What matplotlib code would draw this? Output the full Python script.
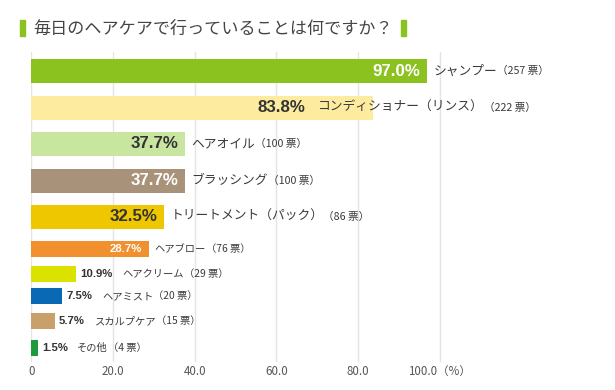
import matplotlib
matplotlib.use("Agg")
import matplotlib.pyplot as plt
from matplotlib.patches import Rectangle

# --- data ---
title = "毎日のヘアケアで行っていることは何ですか？"
items = ["シャンプー", "コンディショナー（リンス）", "ヘアオイル", "ブラッシング",
         "トリートメント（パック）", "ヘアブロー", "ヘアクリーム", "ヘアミスト",
         "スカルプケア", "その他"]
percents = [97.0, 83.8, 37.7, 37.7, 32.5, 28.7, 10.9, 7.5, 5.7, 1.5]
votes = [257, 222, 100, 100, 86, 76, 29, 20, 15, 4]
colors = ["#8cc21f", "#fdeca0", "#c9e6a0", "#a8927a", "#efc700",
          "#f0902f", "#dce200", "#0a69b5", "#c8a06a", "#1f9a3d"]
pct_colors = ["white", "#333333", "#333333", "white", "#333333",
              "white", "#333333", "#333333", "#333333", "#333333"]
x_ticks = [0, 20, 40, 60, 80, 100]
x_ticklabels = ["0", "20.0", "40.0", "60.0", "80.0", "100.0（%）"]

# --- layout (pixel rows, from top of the image) ---
W, H = 615, 390
y_rows = [71, 107.5, 143.8, 180.5, 216.7, 248.8, 273.8, 295.8, 321.3, 348]
bar_h = [24] * 5 + [16] * 5
px_per_unit = 4.08
x0_px = 31.5
anchor_override = {1: (312 - x0_px) / px_per_unit}  # conditioner label sits inside bar

jp = ["Noto Sans CJK JP", "DejaVu Sans"]
num = ["Liberation Sans", "DejaVu Sans"]
green = "#8cc21f"
text_col = "#3a3a3a"

fig = plt.figure(figsize=(W / 100, H / 100), dpi=100)
fig.patch.set_facecolor("white")

top_px, bot_px, right_px = 52, 362, 602
ax = fig.add_axes([x0_px / W, (H - bot_px) / H, (right_px - x0_px) / W, (bot_px - top_px) / H])
ax.set_xlim(0, (right_px - x0_px) / px_per_unit)
ax.set_ylim(bot_px, top_px)

ax.barh(y_rows, percents, height=bar_h, color=colors, zorder=2)

ax.set_xticks(x_ticks)
ax.set_xticklabels(x_ticklabels, family=jp, fontsize=8.3, color="#555555")
ax.set_yticks([])
ax.tick_params(axis="x", length=0, pad=2)
ax.grid(axis="x", color="#e4e4e4", linewidth=1, zorder=0)
ax.set_axisbelow(True)
for s in ax.spines.values():
    s.set_visible(False)

for i, (name, p, v) in enumerate(zip(items, percents, votes)):
    y = y_rows[i]
    big = i < 5
    pct_size = 12.2 if big else 8.2
    name_size = 9.2 if big else 7.4
    cnt_size = 7.7 if big else 7.4
    if i < 6:
        # percentage inside the bar, name right after the bar end
        anchor = anchor_override.get(i, p)
        ax.annotate(f"{p:.1f}%", xy=(anchor, y), xytext=(-5, 0), textcoords="offset points",
                    ha="right", va="center", family=num, fontweight="bold",
                    fontsize=pct_size, color=pct_colors[i], zorder=3)
        t_name = ax.annotate(name, xy=(anchor, y), xytext=(4.5, 0), textcoords="offset points",
                             ha="left", va="center", family=jp, fontsize=name_size,
                             color=text_col, zorder=3)
    else:
        # small bars: percentage outside, then the name
        t_pct = ax.annotate(f"{p:.1f}%", xy=(p, y), xytext=(3, 0), textcoords="offset points",
                            ha="left", va="center", family=num, fontweight="bold",
                            fontsize=pct_size, color=pct_colors[i], zorder=3)
        t_name = ax.annotate(name, xy=(1, 0.5), xycoords=t_pct, xytext=(7, 0),
                             textcoords="offset points", ha="left", va="center",
                             family=jp, fontsize=name_size, color=text_col, zorder=3)
    ax.annotate(f"（{v} 票）", xy=(1, 0.5), xycoords=t_name, xytext=(0, 0),
                textcoords="offset points", ha="left", va="center",
                family=jp, fontsize=cnt_size, color=text_col, zorder=3)

# --- title with green markers ---
fig.text(33 / W, 1 - 28.5 / H, title, ha="left", va="center", family=jp,
         fontsize=12.3, color="#444444")
for bx in (20, 401):
    fig.patches.append(Rectangle((bx / W, 1 - 36 / H), 5 / W, 16 / H,
                                 transform=fig.transFigure, color=green))

fig.savefig("out.png", dpi=100)
